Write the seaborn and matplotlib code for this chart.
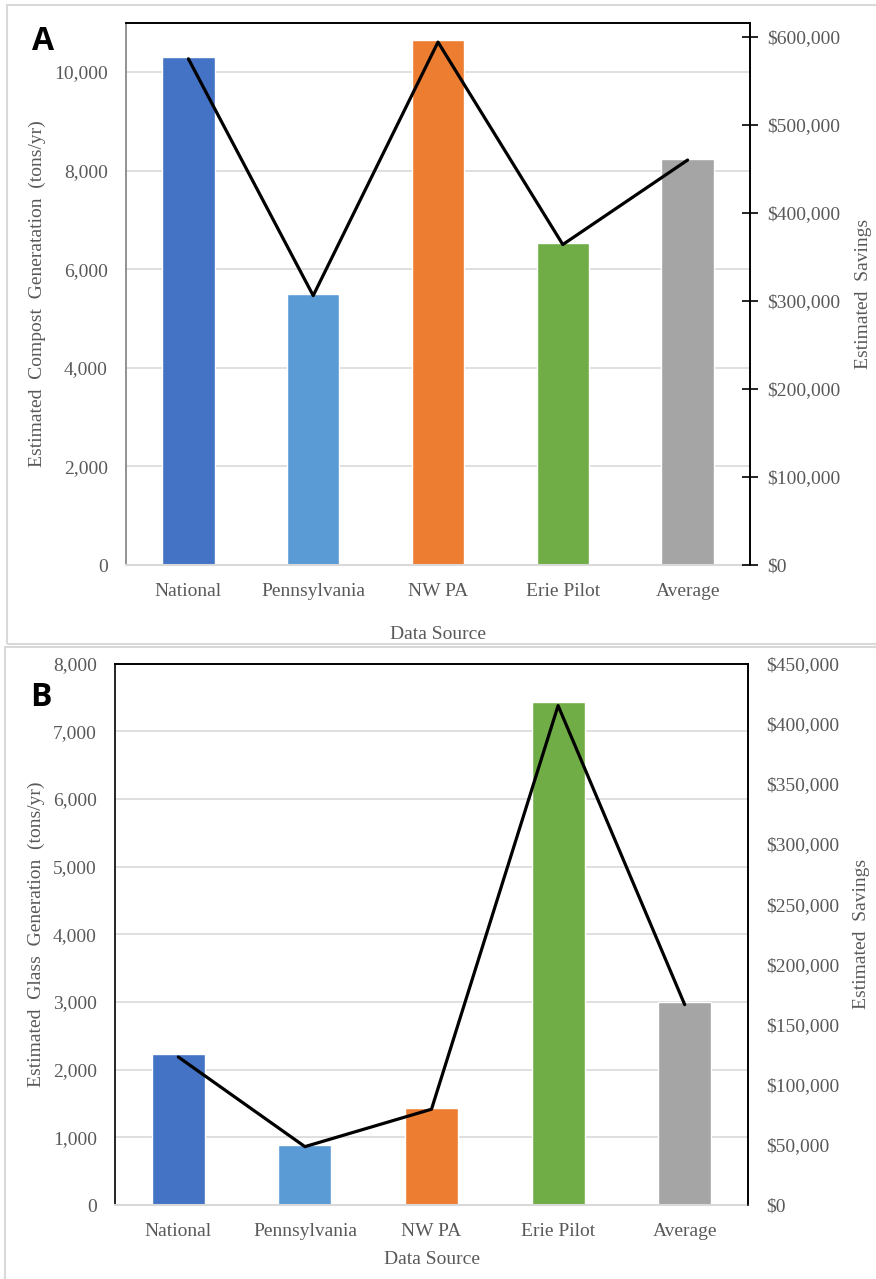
import numpy as np
import pandas as pd
import matplotlib
matplotlib.use("Agg")
import matplotlib.pyplot as plt
from matplotlib.patches import Rectangle
from matplotlib.ticker import FuncFormatter, MultipleLocator
import seaborn as sns

# ---- data ----
sources = ["National", "Pennsylvania", "NW PA", "Erie Pilot", "Average"]
bar_colors = ["#4472C4", "#5B9BD5", "#ED7D31", "#70AD47", "#A5A5A5"]

compost_tons = [10300, 5490, 10640, 6530, 8240]
compost_savings = [575000, 306000, 594000, 364000, 460000]

glass_tons = [2230, 880, 1440, 7430, 2995]
glass_savings = [123000, 48500, 79600, 415000, 166500]

# ---- style ----
sns.set_theme(style="white")
plt.rcParams["font.family"] = ["Liberation Serif", "DejaVu Serif"]
TXT = "#595959"
GRID = "#D9D9D9"
FS = 14

W, H = 876, 1279
fig = plt.figure(figsize=(W / 100, H / 100), dpi=100)
fig.patch.set_facecolor("white")


def px_axes(left, top, right, bottom):
    return fig.add_axes([left / W, (H - bottom) / H, (right - left) / W, (bottom - top) / H])


comma = FuncFormatter(lambda v, p: f"{int(v):,}")
dollars = FuncFormatter(lambda v, p: f"${int(v):,}")


def panel(ax, tons, savings, ymax, ystep, y2max, y2step, ylabel, left_spine, right_ticks, xlabpad):
    df = pd.DataFrame({"source": sources, "tons": tons, "savings": savings})
    sns.barplot(data=df, x="source", y="tons", hue="source", palette=bar_colors,
                width=0.42, saturation=1, legend=False, ax=ax, zorder=2)
    ax.set_xlim(-0.5, len(sources) - 0.5)
    ax.set_ylim(0, ymax)
    ax.yaxis.set_major_locator(MultipleLocator(ystep))
    ax.yaxis.set_major_formatter(comma)
    ax.grid(axis="y", color=GRID, lw=1.2, zorder=0)
    ax.set_axisbelow(True)
    ax.tick_params(axis="y", length=0, pad=13, labelsize=FS, labelcolor=TXT)
    ax.tick_params(axis="x", length=0, pad=13, labelsize=FS, labelcolor=TXT)
    ax.set_xlabel("Data Source", fontsize=FS, color=TXT, labelpad=xlabpad)
    ax.set_ylabel(ylabel, fontsize=FS, color=TXT, labelpad=6)
    for side in ("top", "right"):
        ax.spines[side].set_color("black")
        ax.spines[side].set_linewidth(1.2)
    ax.spines["left"].set_color(left_spine)
    ax.spines["left"].set_linewidth(1.2)
    ax.spines["bottom"].set_color(GRID)
    ax.spines["bottom"].set_linewidth(1.5)

    ax2 = ax.twinx()
    sns.lineplot(data=df, x="source", y="savings", color="black", lw=2.3,
                 sort=False, ax=ax2, zorder=3)
    ax2.set_ylim(0, y2max)
    ax2.yaxis.set_major_locator(MultipleLocator(y2step))
    ax2.yaxis.set_major_formatter(dollars)
    if right_ticks:
        ax2.tick_params(axis="y", direction="inout", length=11, width=1.2, color="black",
                        pad=7, labelsize=FS, labelcolor=TXT)
    else:
        ax2.tick_params(axis="y", length=0, pad=13, labelsize=FS, labelcolor=TXT)
    ax2.set_ylabel("Estimated  Savings", fontsize=FS, color=TXT, labelpad=10)
    for side in ("top", "right"):
        ax2.spines[side].set_color("black")
        ax2.spines[side].set_linewidth(1.2)
    ax2.spines["left"].set_visible(False)
    ax2.spines["bottom"].set_visible(False)
    ax2.grid(False)
    ax2.set_xlabel("")
    return ax2


# panel frames
fig.patches.append(Rectangle((7 / W, (H - 644) / H), 1.0, 639 / H, transform=fig.transFigure,
                             fill=False, edgecolor=GRID, lw=1.5, zorder=0))
fig.patches.append(Rectangle((5 / W, (H - 1290) / H), 1.0, 643 / H, transform=fig.transFigure,
                             fill=False, edgecolor=GRID, lw=1.5, zorder=0))

axA = px_axes(126, 22.7, 750, 565)
panel(axA, compost_tons, compost_savings, 11000, 2000, 616000, 100000,
      "Estimated  Compost  Generatation  (tons/yr)", "#7F7F7F", True, 19)

axB = px_axes(115, 663.5, 748, 1205)
panel(axB, glass_tons, glass_savings, 8000, 1000, 450000, 50000,
      "Estimated  Glass  Generation  (tons/yr)", "black", False, 8)

fig.text(32 / W, 1 - 41 / H, "A", fontsize=23, fontweight="bold", family="Open Sans",
         color="black", va="center", ha="left")
fig.text(30 / W, 1 - 697 / H, "B", fontsize=23, fontweight="bold", family="Open Sans",
         color="black", va="center", ha="left")

fig.savefig("out.png", dpi=100, facecolor="white")
